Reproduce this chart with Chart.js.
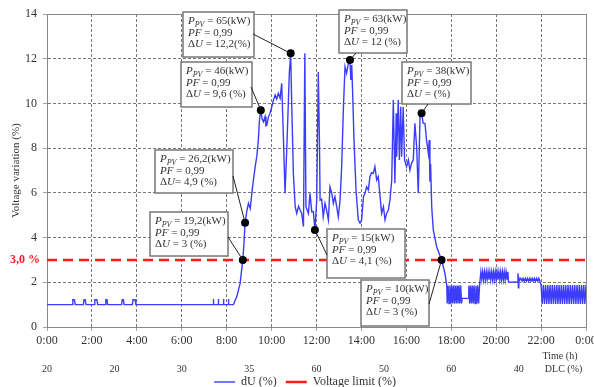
<!DOCTYPE html>
<html>
<head>
<meta charset="utf-8">
<script src="https://cdn.jsdelivr.net/npm/chart.js@4.4.0/dist/chart.umd.min.js"></script>
<style>
  html, body { margin: 0; padding: 0; background: #fff; }
</style>
</head>
<body>
<canvas id="chartCanvas" width="594" height="387"></canvas>
<script>
// time axis labels (every 2 h)
const timeLabels = ['0:00', '2:00', '4:00', '6:00', '8:00', '10:00', '12:00', '14:00', '16:00', '18:00', '20:00', '22:00', '0:00'];

// DLC row under the time axis
const dlcHours = [0, 3, 6, 9, 12, 15, 18, 21, 23];
const dlcLabels = ['20', '20', '30', '35', '60', '50', '60', '40', 'DLC (%)'];

const hours = [
  0, 1.12, 1.15, 1.22, 1.26, 1.62, 1.65, 1.70, 1.74, 2.10, 2.13, 2.22, 2.26, 2.59, 2.62, 2.67, 2.70, 3.32, 3.35, 3.40, 3.43, 3.80, 3.83, 3.92, 3.96,
  7.40, 7.41, 7.42, 7.62, 7.63, 7.64, 7.85, 7.86, 7.87, 8.07, 8.08, 8.09, 8.30,
  8.45, 8.60, 8.66, 8.72, 8.78, 8.82, 8.90, 8.97, 9.05, 9.12, 9.19, 9.27, 9.34, 9.41, 9.46, 9.52,
  9.58, 9.64, 9.71, 9.75, 9.79, 9.86, 9.93, 10.01, 10.08, 10.16, 10.23, 10.30, 10.38, 10.45,
  10.53, 10.60, 10.68, 10.75, 10.79, 10.85, 10.90, 10.97, 11.05, 11.12, 11.20, 11.27, 11.34, 11.42, 11.48,
  11.53, 11.64, 11.71, 11.79, 11.86, 11.93, 12.01, 12.08, 12.13, 12.16,
  12.23, 12.30, 12.38, 12.45, 12.53, 12.60, 12.68, 12.75, 12.82, 12.90, 12.97, 13.05, 13.12,
  13.20, 13.27, 13.34, 13.42, 13.49, 13.53, 13.57, 13.61, 13.67, 13.76, 13.86, 13.94, 14.01,
  14.09, 14.16, 14.23, 14.31, 14.38, 14.45, 14.53, 14.60, 14.68, 14.75, 14.83, 14.90, 14.98, 15.05,
  15.12, 15.20, 15.27, 15.35, 15.42, 15.49, 15.55, 15.57, 15.64, 15.69, 15.75, 15.79, 15.86, 15.92, 16.01,
  16.09, 16.16, 16.23, 16.31, 16.38, 16.46, 16.53, 16.61, 16.68, 16.75, 16.83, 16.90, 16.98, 17.02, 17.05, 17.08, 17.13,
  17.20, 17.35, 17.57, 17.72, 17.80,
  17.82, 17.86, 17.90, 17.94, 17.98, 18.02, 18.06, 18.10, 18.14, 18.18, 18.22, 18.26, 18.30, 18.34, 18.38, 18.42, 18.46,
  18.48, 18.76,
  18.78, 18.82, 18.86, 18.90, 18.94, 18.98, 19.02, 19.06, 19.10, 19.14, 19.18, 19.22, 19.26,
  19.32, 19.36, 19.40, 19.44, 19.48, 19.52, 19.56, 19.60, 19.64, 19.68, 19.72, 19.76, 19.80, 19.84, 19.88, 19.92,
  19.96, 20.00, 20.04, 20.08, 20.12, 20.16, 20.20, 20.24, 20.28, 20.32, 20.36, 20.40, 20.44, 20.48, 20.52,
  20.55, 20.70, 20.85, 20.95, 20.97, 20.99, 21.01, 21.05,
  21.10, 21.15, 21.20, 21.25, 21.30, 21.35, 21.40, 21.45, 21.50, 21.55, 21.60, 21.65, 21.70, 21.75, 21.80, 21.85, 21.90, 21.95,
  22.00, 22.05, 22.10, 22.15, 22.20, 22.25, 22.30, 22.35, 22.40, 22.45, 22.50, 22.55, 22.60, 22.65, 22.70, 22.75, 22.80, 22.85, 22.90, 22.95,
  23.00, 23.05, 23.10, 23.15, 23.20, 23.25, 23.30, 23.35, 23.40, 23.45, 23.50, 23.55, 23.60, 23.65, 23.70, 23.75, 23.80, 23.85, 23.90, 23.95,
  24.00
];
const dU = [
  1, 1, 1.22, 1.22, 1, 1, 1.22, 1.22, 1, 1, 1.22, 1.22, 1, 1, 1.22, 1.22, 1, 1, 1.22, 1.22, 1, 1, 1.22, 1.22, 1,
  1, 1.25, 1, 1, 1.25, 1, 1, 1.25, 1, 1, 1.25, 1, 1,
  1.36, 1.95, 2.5, 3.0, 3.9, 4.66, 5.2, 5.53, 5.3, 5.98, 6.57, 7.17, 7.62, 8.36, 9.26, 9.7,
  9.3, 9.18, 9.41, 9.0, 9.03, 9.4, 9.56, 9.85, 10.15, 10.38, 10.2, 10.45, 10.23, 10.9,
  8.36, 5.98, 8.06, 10.15, 11.35, 12.24, 9.85, 6.87, 5.38, 5.08, 5.4, 5.23, 5.08, 4.49, 12.24,
  5.38, 5.08, 5.98, 5.15, 5.16, 4.34, 5.68, 11.4, 8.36, 5.68,
  5.72, 4.93, 5.53, 5.23, 4.79, 6.27, 5.98, 5.53, 5.83, 5.38, 4.93, 5.68, 7.17,
  9.85, 11.64, 11.35, 11.79, 11.94, 11.05, 11.72, 10.45, 8.36, 6.13, 4.79, 4.64, 4.79,
  5.83, 5.98, 6.27, 6.13, 6.72, 6.9, 6.87, 7.17, 6.57, 6.72, 5.83, 5.08, 5.38, 4.79,
  5.08, 5.23, 5.68, 6.57, 10.15, 6.43, 9.56, 7.62, 10.15, 7.47, 9.85, 7.62, 9.85, 7.47, 7.17,
  7.47, 7.02, 7.32, 7.47, 9.11, 8.06, 5.98, 9.41, 9.56, 9.11, 9.11, 8.36, 7.77, 8.36, 6.5, 7.3, 5.38,
  4.34, 3.59, 3.0, 2.4, 1.85,
  1.05, 1.85, 1.05, 1.85, 1.05, 1.85, 1.05, 1.85, 1.05, 1.85, 1.05, 1.85, 1.05, 1.85, 1.05, 1.85, 1.05,
  1.28, 1.28,
  1.85, 1.05, 1.85, 1.05, 1.85, 1.05, 1.85, 1.05, 1.85, 1.05, 1.85, 1.05, 1.85,
  2.47, 2.12, 2.47, 2.12, 2.47, 2.12, 2.47, 2.12, 2.47, 2.12, 2.47, 2.12, 2.47, 2.12, 2.47, 2.12,
  2.47, 2.12, 2.47, 2.12, 2.47, 2.12, 2.47, 2.12, 2.47, 2.12, 2.47, 2.12, 2.47, 2.12, 2.47,
  2.02, 2.0, 2.02, 2.0, 2.4, 1.75, 2.2, 2.1,
  2.18, 2.05, 2.18, 2.05, 2.18, 2.05, 2.18, 2.05, 2.18, 2.05, 2.18, 2.05, 2.18, 2.05, 2.18, 2.05, 2.18, 2.05,
  1.88, 1.03, 1.88, 1.03, 1.88, 1.03, 1.88, 1.03, 1.88, 1.03, 1.88, 1.03, 1.88, 1.03, 1.88, 1.03, 1.88, 1.03, 1.88, 1.03,
  1.88, 1.03, 1.88, 1.03, 1.88, 1.03, 1.88, 1.03, 1.88, 1.03, 1.88, 1.03, 1.88, 1.03, 1.88, 1.03, 1.88, 1.03, 1.88, 1.03,
  1.88
];

// voltage limit
const limitHours = [0, 24];
const limitValues = [3, 3];

// marked operating points and their callout texts
const markHours = [10.85, 13.49, 9.52, 8.82, 8.72, 11.93, 17.57, 16.68];
const markValues = [12.24, 11.94, 9.7, 4.66, 3.0, 4.34, 3.0, 9.56];
const markPower = ['65', '63', '46', '26,2', '19,2', '15', '10', '38'];
const markDU = [' = 12,2(%)', ' = 12 (%)', ' = 9,6 (%)', '= 4,9 (%)', ' = 3 (%)', ' = 4,1 (%)', ' = 3 (%)', ' = (%)'];

// callout box layout in pixels: [left, top, width, height, leaderX, leaderY]
const boxLayout = [
  [183, 12, 71, 45, 253, 34],
  [339, 10, 68, 43, 356, 53],
  [181, 62, 71, 45, 251, 87],
  [155, 150, 78, 43, 233, 176],
  [150, 212, 78, 44, 228, 237],
  [327, 229, 78, 49, 327, 255],
  [361, 280, 68, 46, 429, 304],
  [402, 62, 69, 42, 428, 104]
];

// nudge for the legend row [dx, dy]
const legendShift = [12, -8];

const SERIF = "'Liberation Serif', 'Times New Roman', serif";
Chart.defaults.font.family = SERIF;
Chart.defaults.color = '#333';

function drawRich(ctx, x, y, parts) {
  for (const [text, style] of parts) {
    const italic = style.includes('i');
    const sub = style.includes('s');
    ctx.font = (italic ? 'italic ' : '') + (sub ? 8 : 11) + 'px ' + SERIF;
    ctx.fillText(text, x, y + (sub ? 3 : 0));
    x += ctx.measureText(text).width;
  }
}

const extras = {
  id: 'extras',
  afterLayout(chart) {
    const lg = chart.legend;
    lg.left += legendShift[0];
    lg.right += legendShift[0];
    lg.top += legendShift[1];
    lg.bottom = chart.height;
  },
  afterDatasetsDraw(chart) {
    const { ctx, chartArea: a, scales: { x, y } } = chart;
    ctx.save();
    // solid frame on top and right
    ctx.strokeStyle = '#888';
    ctx.lineWidth = 1;
    ctx.beginPath();
    ctx.moveTo(a.left, Math.round(a.top) + 0.5);
    ctx.lineTo(Math.round(a.right) + 0.5, Math.round(a.top) + 0.5);
    ctx.lineTo(Math.round(a.right) + 0.5, a.bottom);
    ctx.stroke();

    // callouts
    boxLayout.forEach((b, i) => {
      const [bx, by, bw, bh, lx, ly] = b;
      ctx.fillStyle = '#fff';
      ctx.fillRect(bx, by, bw, bh);
      ctx.strokeStyle = '#777';
      ctx.lineWidth = 1.5;
      ctx.strokeRect(bx, by, bw, bh);
      ctx.strokeStyle = '#222';
      ctx.lineWidth = 1;
      ctx.beginPath();
      ctx.moveTo(lx, ly);
      ctx.lineTo(x.getPixelForValue(markHours[i]), y.getPixelForValue(markValues[i]));
      ctx.stroke();
      ctx.fillStyle = '#333';
      ctx.textBaseline = 'middle';
      ctx.textAlign = 'left';
      const tx = bx + 5;
      drawRich(ctx, tx, by + 9.5, [['P', 'i'], ['PV', 'is'], [' = ' + markPower[i] + '(kW)', '']]);
      drawRich(ctx, tx, by + 21, [['PF', 'i'], [' = 0,99', '']]);
      drawRich(ctx, tx, by + 32.5, [['\u0394', ''], ['U', 'i'], [markDU[i], '']]);
    });
    ctx.restore();
  },
  afterDraw(chart) {
    const { ctx, scales: { y } } = chart;
    ctx.save();
    ctx.textBaseline = 'middle';
    ctx.textAlign = 'right';
    ctx.fillStyle = '#ff1a1a';
    ctx.font = 'bold 12px ' + SERIF;
    ctx.fillText('3,0 %', 40, y.getPixelForValue(3));
    ctx.textAlign = 'center';
    ctx.fillStyle = '#333';
    ctx.font = '10px ' + SERIF;
    ctx.fillText('Time (h)', 560, 356);
    ctx.restore();
  }
};

const gridOpts = { color: '#555', lineWidth: 0.8, tickColor: '#888', tickLength: 4, tickBorderDash: [] };
const borderOpts = { color: '#888', width: 1, dash: [3, 2] };

new Chart(document.getElementById('chartCanvas').getContext('2d'), {
  type: 'line',
  data: {
    datasets: [
      {
        label: 'marks',
        data: markHours.map((h, i) => ({ x: h, y: markValues[i] })),
        showLine: false,
        pointRadius: 4,
        pointBackgroundColor: '#000',
        pointBorderWidth: 0,
        order: 0
      },
      {
        label: 'dU (%)',
        data: hours.map((h, i) => ({ x: h, y: dU[i] })),
        borderColor: '#3c3cff',
        backgroundColor: '#3c3cff',
        borderWidth: 1.4,
        pointRadius: 0,
        tension: 0,
        order: 2
      },
      {
        label: 'Voltage limit (%)',
        data: limitHours.map((h, i) => ({ x: h, y: limitValues[i] })),
        borderColor: '#ff1a1a',
        backgroundColor: '#ff1a1a',
        borderWidth: 2.5,
        borderDash: [10, 6],
        pointRadius: 0,
        order: 1
      }
    ]
  },
  options: {
    responsive: false,
    animation: false,
    events: [],
    layout: { padding: { top: 14, right: 8, left: 0, bottom: 0 } },
    scales: {
      x: {
        type: 'linear', min: 0, max: 24,
        ticks: { stepSize: 2, padding: 3, maxRotation: 0, autoSkip: false, font: { size: 12 }, color: '#333',
          callback: (v, i) => timeLabels[i] },
        grid: gridOpts,
        border: borderOpts,
        afterFit: s => { s.height = 22; s.paddingLeft = 0; s.paddingRight = 0; }
      },
      x2: {
        type: 'linear', position: 'bottom', min: 0, max: 24,
        afterBuildTicks: s => { s.ticks = dlcHours.map(v => ({ value: v })); },
        ticks: { autoSkip: false, maxRotation: 0, padding: 14, font: { size: 10 }, color: '#333',
          callback: (v, i) => dlcLabels[i] },
        grid: { display: false, drawTicks: false },
        border: { display: false },
        afterFit: s => { s.height = 26; s.paddingLeft = 0; s.paddingRight = 0; }
      },
      y: {
        min: 0, max: 14,
        ticks: { stepSize: 2, padding: 6, font: { size: 12 }, color: '#333' },
        grid: gridOpts,
        border: borderOpts,
        title: { display: true, text: 'Voltage variation (%)', font: { size: 11 }, color: '#333', padding: { top: 10, bottom: 0 } },
        afterFit: s => { s.width = 47; s.paddingTop = 0; s.paddingBottom = 0; }
      }
    },
    plugins: {
      tooltip: { enabled: false },
      legend: {
        position: 'bottom',
        maxHeight: 12,
        labels: {
          usePointStyle: true,
          pointStyle: 'line',
          pointStyleWidth: 21,
          padding: 9,
          font: { size: 12 },
          color: '#333',
          generateLabels: chart => Chart.defaults.plugins.legend.labels.generateLabels(chart)
            .filter(item => item.text !== 'marks')
            .map(item => item.lineDash && item.lineDash.length ? Object.assign(item, { lineDash: [6, 5] }) : item),
          sort: (a, b) => a.datasetIndex - b.datasetIndex
        }
      }
    }
  },
  plugins: [extras]
});
</script>
</body>
</html>
